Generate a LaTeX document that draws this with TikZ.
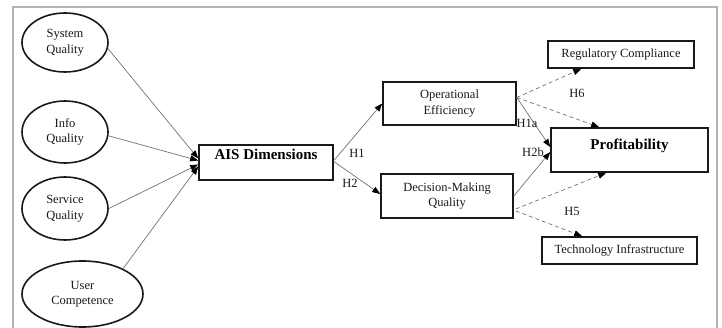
\documentclass[tikz,border=0pt]{standalone}
\usepackage{fontspec}
\setmainfont{Liberation Serif}
\usetikzlibrary{shapes.geometric,calc,arrows.meta}
\begin{document}
\begin{tikzpicture}[x=1pt,y=-1pt,
  txt/.style={font=\fontsize{12.5}{15.5}\selectfont, text=black!90},
  bold/.style={font=\fontsize{15}{18}\selectfont\bfseries, text=black},
  ell/.style={ellipse, draw=black!90, line width=1.6pt, inner sep=0pt, align=center, txt},
  bx/.style={rectangle, draw=black!90, line width=1.6pt, inner sep=0pt, align=center, txt},
  tip/.style={-{Triangle[length=8pt,width=6pt,color=black]}},
  conn/.style={draw=black!55, line width=0.7pt, tip},
  dconn/.style={draw=black!55, line width=0.7pt, dash pattern=on 4pt off 3pt, tip},
  lbl/.style={txt, inner sep=0pt}
]
\useasboundingbox (0,0) rectangle (722,328);
\fill[white] (0,0) rectangle (722,328);
% frame
\draw[black!30, line width=1.5pt] (13,328) -- (13,7) -- (717,7) -- (717,328);

% ellipses
\node[ell, minimum width=86pt, minimum height=59pt] (sq) at (65,42.5) {System\\Quality};
\node[ell, minimum width=86pt, minimum height=62pt] (iq) at (65,132) {Info\\Quality};
\node[ell, minimum width=86pt, minimum height=63pt] (svq) at (65,208.5) {Service\\Quality};
\node[ell, minimum width=121pt, minimum height=66pt] (uc) at (82.5,294) {User\\Competence};

% boxes
\node[bx, bold, minimum width=134pt, minimum height=35pt, text height=10pt, text depth=15pt] (ais) at (266,162.5) {AIS Dimensions};
\node[bx, minimum width=133pt, minimum height=43pt] (oe) at (449.5,103.5) {Operational\\Efficiency};
\node[bx, minimum width=132pt, minimum height=44pt] (dm) at (447,196) {Decision-Making\\Quality};
\node[bx, minimum width=146pt, minimum height=27pt] (rc) at (621,54.5) {Regulatory Compliance};
\node[bx, bold, minimum width=157pt, minimum height=44pt, text height=10pt, text depth=10pt] (pr) at (629.5,150) {Profitability};
\node[bx, minimum width=155pt, minimum height=27pt] (ti) at (619.5,250.5) {Technology Infrastructure};

% inputs to AIS
\draw[conn] (sq.-8) -- ($(ais.west)+(0,-4)$);
\draw[conn] (iq.-5) -- ($(ais.west)+(0,-2)$);
\draw[conn] (svq.east) -- ($(ais.west)+(0,2)$);
\draw[conn] (uc.32) -- ($(ais.west)+(0,4)$);

% H1 / H2
\draw[conn] ($(ais.east)+(0,-2)$) -- (oe.west);
\draw[conn] ($(ais.east)+(0,-1)$) -- ($(dm.west)+(0,-2)$);
\node[lbl] (h1) at (357,153) {H1};
\node[lbl] (h2) at (350,183) {H2};

% H1a / H2b
\draw[conn] ($(oe.east)+(0,-6)$) -- ($(pr.west)+(0,-3)$);
\draw[conn] ($(dm.east)+(0,0)$) -- ($(pr.west)+(0,2)$);
\node[lbl] (h1a) at (527,123) {H1a};
\node[lbl] (h2b) at (533,152) {H2b};

% dashed
\draw[dconn] ($(oe.east)+(0,-6)$) -- ($(rc.south west)+(34,0)$);
\draw[dconn] ($(oe.east)+(0,-6)$) -- ($(pr.north west)+(49,0)$);
\draw[dconn] ($(dm.east)+(2,13)$) -- ($(pr.south west)+(56,0)$);
\draw[dconn] ($(dm.east)+(2,15)$) -- ($(ti.north west)+(41,0)$);
\node[lbl] (h6) at (577,93) {H6};
\node[lbl] (h5) at (572,211) {H5};
\end{tikzpicture}
\end{document}
